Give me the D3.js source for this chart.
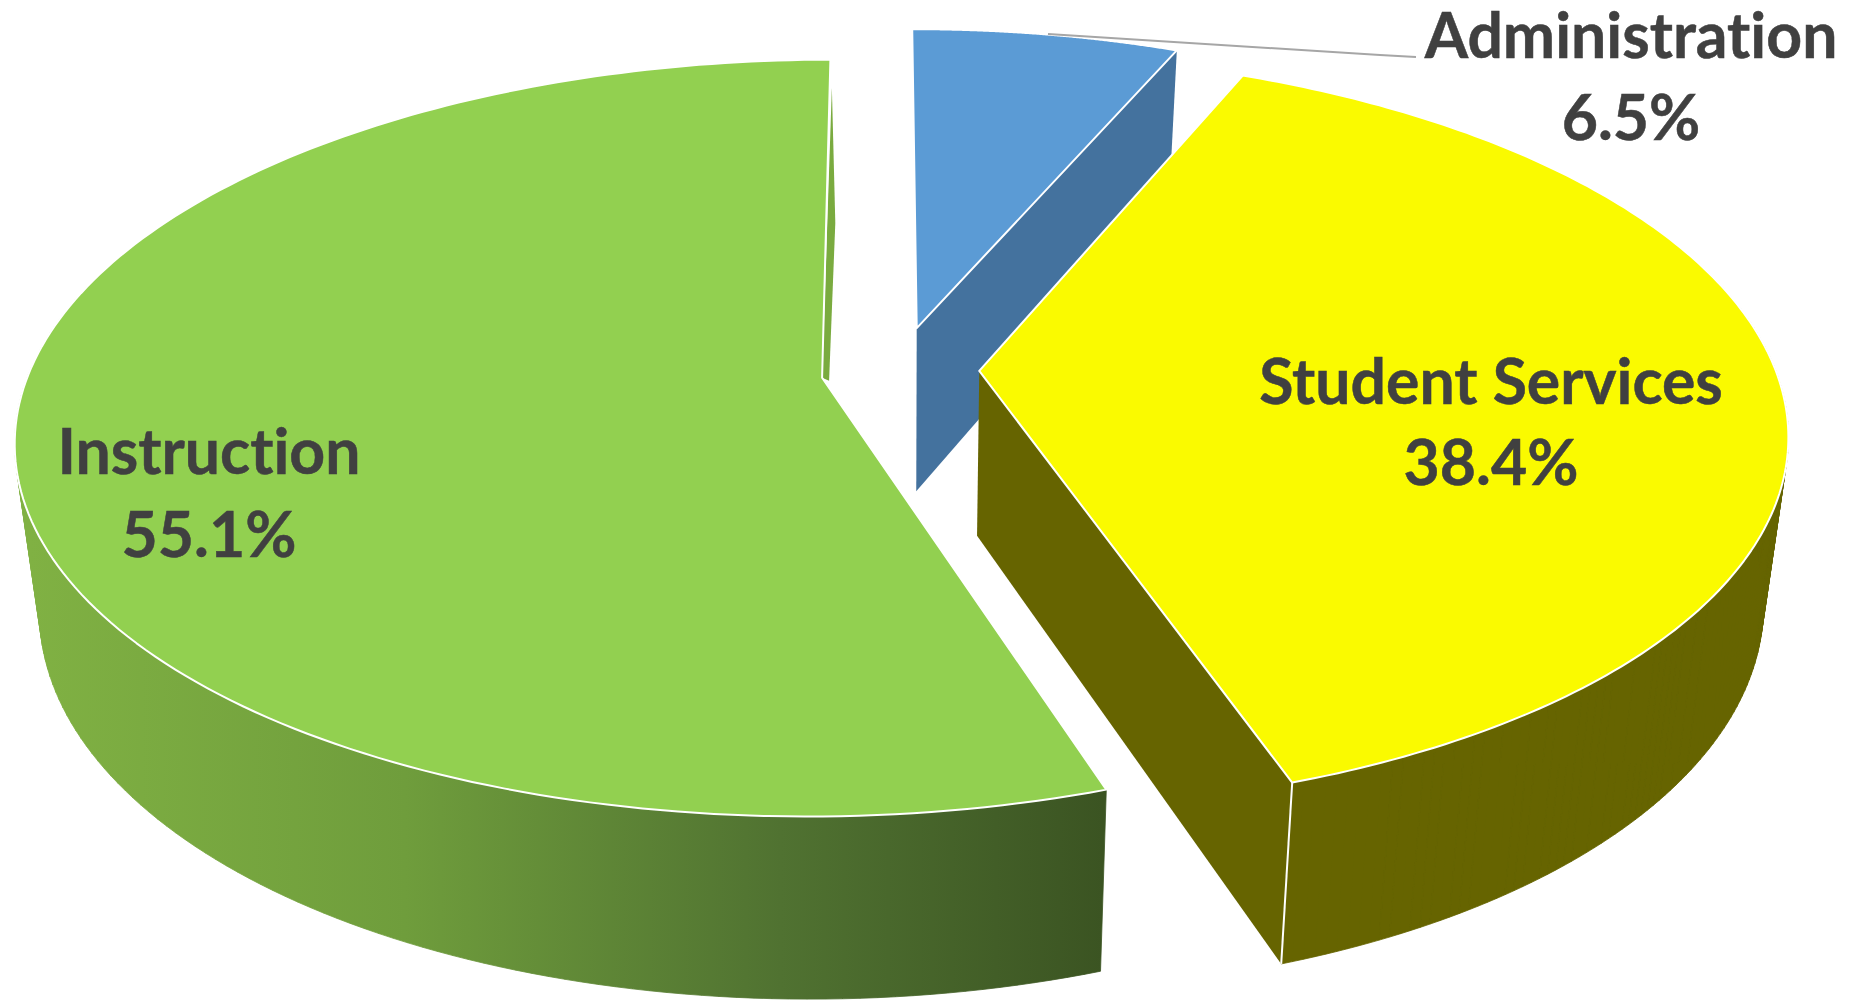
<!DOCTYPE html>
<html>
<head>
<meta charset="utf-8">
<title>Expenditure shares</title>
<script src="https://cdn.jsdelivr.net/npm/d3@7"></script>
<style>
  html, body { margin: 0; padding: 0; background: #fff; overflow: hidden; }
  svg { display: block; }
  text { font-family: Lato, "Open Sans", sans-serif; font-weight: 700; fill: #404040; stroke: #404040; stroke-width: 0.5; text-anchor: middle; font-variant-ligatures: none; }
</style>
</head>
<body>
<svg id="chart" width="1860" height="1000"></svg>
<script>
// Chart values, clockwise from twelve o'clock
const categories = ["Administration", "Student Services", "Instruction"];
const shares = [6.5, 38.4, 55.1];

// How far each wedge is pulled out of the pie (across, back), in pie radii
const pull = [[0.0215, 0.122], [0.1, 0.003], [-0.098, -0.0156]];
const radius = [0.975, 1.005, 1];
const startOffset = -0.2 * Math.PI / 180;

// Wedge appearance
const topColors = ["#5B9BD5", "#FAFA00", "#92D050"];
const wallColors = ["#44729E", "#666400", "url(#instructionWall)"];

// Camera model: the pie is a unit disc seen in perspective
const view = { cx: 900, cy: 372, rx: 793, ry: 367, k: 0.159 };
const depth = { drop: 165, k: 0.095, shrink: 0.028, vanishX: 900 };

function project(u, v) {
  const w = 1 + view.k * v;
  return [view.cx + view.rx * u / w, view.cy - view.ry * v / w];
}
function projectBase(u, v) {
  const [x, y] = project(u, v);
  return [x - depth.shrink * (x - depth.vanishX), y + depth.drop / (1 + depth.k * v)];
}

const svg = d3.select("#chart");
const pie = d3.pie().sort(null).value(d => d)
  .startAngle(startOffset).endAngle(startOffset + 2 * Math.PI)(shares);

const slices = pie.map((p, i) => {
  const [ou, ov] = pull[i];
  const rim = d3.range(0, 181).map(j => {
    const a = p.startAngle + (p.endAngle - p.startAngle) * j / 180;
    return [ou + radius[i] * Math.sin(a), ov + radius[i] * Math.cos(a)];
  });
  return { i, ou, ov, rim, apex: [ou, ov] };
});

const line = d3.line();

const defs = svg.append("defs");
const grad = defs.append("linearGradient")
  .attr("id", "instructionWall")
  .attr("gradientUnits", "userSpaceOnUse")
  .attr("x1", 30).attr("x2", 1103).attr("y1", 0).attr("y2", 0);
[[0, "#80B143"], [0.35, "#6F9D3C"], [0.7, "#507231"], [1, "#3B5422"]].forEach(([o, c]) =>
  grad.append("stop").attr("offset", o).attr("stop-color", c));

// Curved outer wall: a band of small quads, all wound the same way so the
// silhouette fold stays solid under the nonzero fill rule. Quads on the far
// half of the rim are skipped because they face away from the viewer.
function outerWall(s) {
  let d = "";
  for (let j = 0; j < s.rim.length - 1; j++) {
    if (s.rim[j][1] - s.ov > 0.25 && s.rim[j + 1][1] - s.ov > 0.25) continue;
    const quad = [
      project(...s.rim[j]), project(...s.rim[j + 1]),
      projectBase(...s.rim[j + 1]), projectBase(...s.rim[j])
    ];
    if (d3.polygonArea(quad) < 0) quad.reverse();
    d += line(quad) + "Z";
  }
  return d;
}
// Flat cut face that runs from the centre out to one end of the rim
function cutWall(s, rimPoint) {
  return line([project(...s.apex), project(...rimPoint), projectBase(...rimPoint), projectBase(...s.apex)]) + "Z";
}
function topFace(s) {
  return line([project(...s.apex), ...s.rim.map(p => project(...p))]) + "Z";
}

const [admin, student, instruction] = slices;
const g = svg.append("g");

const edge = sel => sel.attr("stroke", "#fff").attr("stroke-width", 2).attr("stroke-linejoin", "round");

// Administration, furthest back
g.append("path").attr("d", cutWall(admin, admin.rim[admin.rim.length - 1])).attr("fill", wallColors[0]);
g.append("path").attr("d", topFace(admin)).attr("fill", topColors[0]).call(edge);

// Instruction: sliver of the cut face at twelve o'clock, then the wall and the top
const sliver = (() => {
  const a = project(...instruction.apex);
  const r = project(instruction.ou, instruction.ov + 0.9);
  const m = project(instruction.ou, instruction.ov + 0.45);
  return line([r, [m[0] + 8, m[1]], [a[0] + 7, a[1] + 3], a]) + "Z";
})();
g.append("path").attr("d", sliver).attr("fill", "#7AAB3F");
g.append("path").attr("d", outerWall(instruction))
  .attr("fill", wallColors[2]).attr("stroke", wallColors[2]).attr("stroke-width", 0.8);
g.append("path").attr("d", topFace(instruction)).attr("fill", topColors[2]).call(edge);

// Student Services: cut face, outer wall, corner highlight, top
const stuEnd = student.rim[student.rim.length - 1];
g.append("path").attr("d", cutWall(student, stuEnd)).attr("fill", wallColors[1]);
g.append("path").attr("d", outerWall(student))
  .attr("fill", wallColors[1]).attr("stroke", wallColors[1]).attr("stroke-width", 0.8);
g.append("path").attr("d", line([project(...stuEnd), projectBase(...stuEnd)]))
  .attr("fill", "none").attr("stroke", "#fff").attr("stroke-width", 2);
g.append("path").attr("d", topFace(student)).attr("fill", topColors[1]).call(edge);

// Leader line for the Administration label
g.append("polyline")
  .attr("points", "1048,34 1380,55 1416,57")
  .attr("fill", "none").attr("stroke", "#A6A6A6").attr("stroke-width", 2);

// Data labels
const labelPlace = [
  { x: 1631, name: 58, value: 140 },
  { x: 1491, name: 404, value: 485 },
  { x: 209, name: 474, value: 557 }
];
const labels = svg.append("g").selectAll("g").data(categories).join("g");
labels.append("text")
  .attr("x", (d, i) => labelPlace[i].x).attr("y", (d, i) => labelPlace[i].name)
  .attr("font-size", 62.5).text(d => d);
labels.append("text")
  .attr("x", (d, i) => labelPlace[i].x).attr("y", (d, i) => labelPlace[i].value)
  .attr("font-size", 62.5).text((d, i) => shares[i].toFixed(1) + "%");
</script>
</body>
</html>
